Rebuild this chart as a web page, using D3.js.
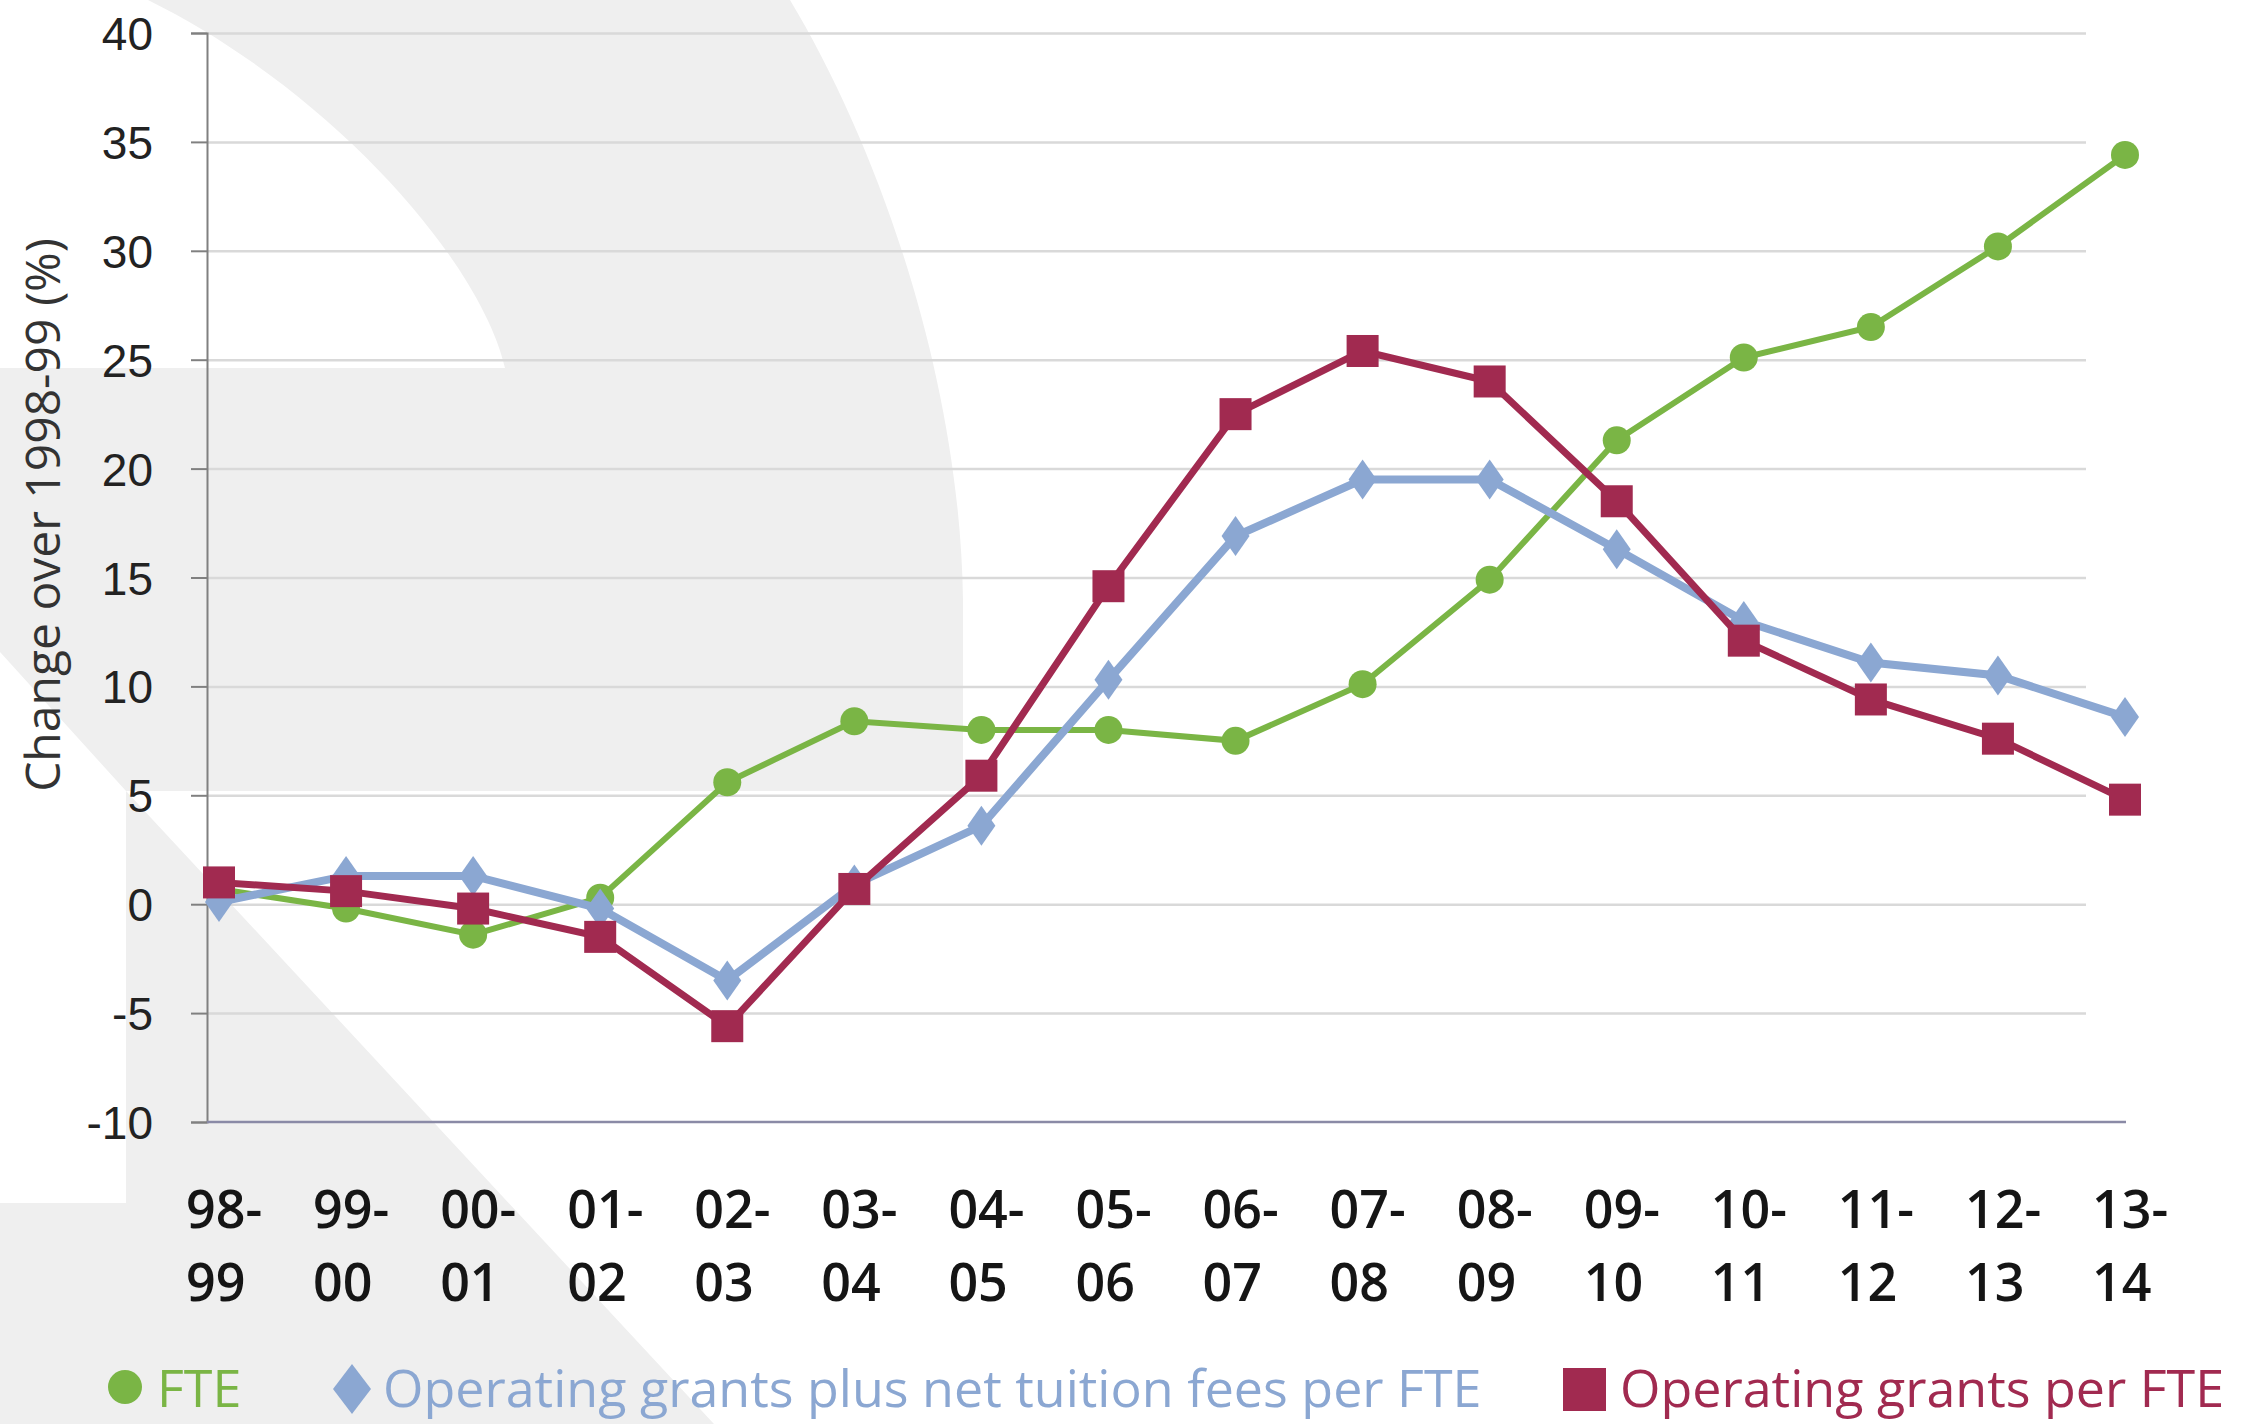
<!DOCTYPE html>
<html>
<head>
<meta charset="utf-8">
<script src="https://cdn.jsdelivr.net/npm/d3@7"></script>
<style>
  html, body { margin: 0; padding: 0; background: #fff; }
  svg { display: block; font-family: "Open Sans", "Noto Sans", sans-serif; }
</style>
</head>
<body>
<div id="chart"></div>
<script>
// chart data
const categories = ["98-99", "99-00", "00-01", "01-02", "02-03", "03-04", "04-05", "05-06",
                    "06-07", "07-08", "08-09", "09-10", "10-11", "11-12", "12-13", "13-14"];
const fte = [0.7, -0.2, -1.4, 0.3, 5.6, 8.4, 8.0, 8.0, 7.5, 10.1, 14.9, 21.3, 25.1, 26.5, 30.2, 34.4];
const grantsPlusFees = [0.1, 1.3, 1.3, -0.2, -3.5, 0.9, 3.6, 10.3, 16.9, 19.5, 19.5, 16.3, 13.0, 11.1, 10.5, 8.6];
const grantsPerFte = [1.0, 0.6, -0.2, -1.5, -5.6, 0.7, 5.9, 14.6, 22.5, 25.4, 24.0, 18.5, 12.1, 9.4, 7.6, 4.8];
const yTicks = [-10, -5, 0, 5, 10, 15, 20, 25, 30, 35, 40];
const seriesNames = ["FTE", "Operating grants plus net tuition fees per FTE", "Operating grants per FTE"];

const W = 2255, H = 1424;
const plot = { left: 207, right: 2126, top: 33, bottom: 1122 };
const colors = { fte: "#7ab545", fees: "#8ba7d2", grants: "#a12a50" };

const svg = d3.select("#chart").append("svg")
  .attr("width", W)
  .attr("height", H);

// faint background watermark shapes
const wm = svg.append("g").attr("fill", "#efefef");
wm.append("path")
  .attr("d", "M148,0 L790,0 C880,150 960,380 963,600 L963,791 L126,791 L0,652 L0,368 L505,368 C480,260 330,90 148,0 Z");
wm.append("path")
  .attr("d", "M126,791 L714,1424 L0,1424 L0,1203 L126,1203 Z");

const x = d3.scalePoint()
  .domain(categories)
  .range([plot.left + 12, plot.right - 1]);

const y = d3.scaleLinear()
  .domain([-10, 40])
  .range([plot.bottom, plot.top]);

// gridlines
svg.append("g")
  .attr("transform", "translate(" + plot.left + ",0)")
  .call(d3.axisLeft(y).tickValues(yTicks.filter(d => d > -10)).tickSize(-(plot.right - 40 - plot.left)).tickFormat(""))
  .call(g => g.select(".domain").remove())
  .selectAll("line")
    .attr("stroke", "#d9d9d9")
    .attr("stroke-width", 2.5);

// y axis
const yAxis = svg.append("g")
  .attr("transform", "translate(" + plot.left + ",0)")
  .call(d3.axisLeft(y).tickValues(yTicks).tickSize(16).tickPadding(38).tickFormat(d => String(d)));
yAxis.select(".domain").attr("stroke", "#808080").attr("stroke-width", 2);
yAxis.selectAll(".tick line").attr("stroke", "#808080").attr("stroke-width", 2);
yAxis.selectAll(".tick text")
  .attr("fill", "#222")
  .attr("dy", "0.36em")
  .style("font-size", "46px");

// x axis baseline
svg.append("line")
  .attr("x1", plot.left)
  .attr("x2", plot.right)
  .attr("y1", y(-10))
  .attr("y2", y(-10))
  .attr("stroke", "#8a8aa6")
  .attr("stroke-width", 2.5);

// x labels, two lines each
const xLabels = svg.append("g").selectAll("text")
  .data(categories)
  .enter()
  .append("text")
    .attr("fill", "#151515")
    .style("font-size", "52px")
    .style("font-weight", 600);
xLabels.append("tspan")
  .attr("x", d => x(d) - 33)
  .attr("y", 1228)
  .text(d => d.split("-")[0] + "-");
xLabels.append("tspan")
  .attr("x", d => x(d) - 33)
  .attr("y", 1301)
  .text(d => d.split("-")[1]);

// y axis title
svg.append("text")
  .attr("transform", "translate(60," + 515 + ") rotate(-90)")
  .attr("text-anchor", "middle")
  .attr("fill", "#333")
  .style("font-size", "48px")
  .text("Change over 1998-99 (%)");

const line = d3.line()
  .x((d, i) => x(categories[i]))
  .y(d => y(d));

const diamond = (w, h) => "M0," + (-h / 2) + " L" + (w / 2) + ",0 L0," + (h / 2) + " L" + (-w / 2) + ",0 Z";

// FTE - green circles
svg.append("path")
  .datum(fte)
  .attr("d", line)
  .attr("fill", "none")
  .attr("stroke", colors.fte)
  .attr("stroke-width", 6);
svg.append("g").selectAll("circle")
  .data(fte)
  .enter()
  .append("circle")
    .attr("cx", (d, i) => x(categories[i]))
    .attr("cy", d => y(d))
    .attr("r", 14)
    .attr("fill", colors.fte);

// grants plus fees - blue diamonds
svg.append("path")
  .datum(grantsPlusFees)
  .attr("d", line)
  .attr("fill", "none")
  .attr("stroke", colors.fees)
  .attr("stroke-width", 8);
svg.append("g").selectAll("path")
  .data(grantsPlusFees)
  .enter()
  .append("path")
    .attr("d", diamond(28, 40))
    .attr("transform", (d, i) => "translate(" + x(categories[i]) + "," + y(d) + ")")
    .attr("fill", colors.fees);

// grants per FTE - red squares
svg.append("path")
  .datum(grantsPerFte)
  .attr("d", line)
  .attr("fill", "none")
  .attr("stroke", colors.grants)
  .attr("stroke-width", 7);
svg.append("g").selectAll("rect")
  .data(grantsPerFte)
  .enter()
  .append("rect")
    .attr("x", (d, i) => x(categories[i]) - 16)
    .attr("y", d => y(d) - 16)
    .attr("width", 32)
    .attr("height", 32)
    .attr("fill", colors.grants);

// legend (kept just inside the bottom edge so descenders are not clipped)
const legendY = 1387;
const legend = svg.append("g").style("font-size", "52px");

legend.append("circle")
  .attr("cx", 125).attr("cy", legendY).attr("r", 17)
  .attr("fill", colors.fte);
legend.append("text")
  .attr("x", 157).attr("y", legendY + 20)
  .attr("fill", colors.fte)
  .text(seriesNames[0]);

legend.append("path")
  .attr("d", diamond(38, 50))
  .attr("transform", "translate(352," + (legendY + 2) + ")")
  .attr("fill", colors.fees);
legend.append("text")
  .attr("x", 383).attr("y", legendY + 20)
  .attr("fill", colors.fees)
  .text(seriesNames[1]);

legend.append("rect")
  .attr("x", 1563).attr("y", legendY - 19)
  .attr("width", 43).attr("height", 43)
  .attr("fill", colors.grants);
legend.append("text")
  .attr("x", 1620).attr("y", legendY + 20)
  .attr("fill", colors.grants)
  .text(seriesNames[2]);
</script>
</body>
</html>
